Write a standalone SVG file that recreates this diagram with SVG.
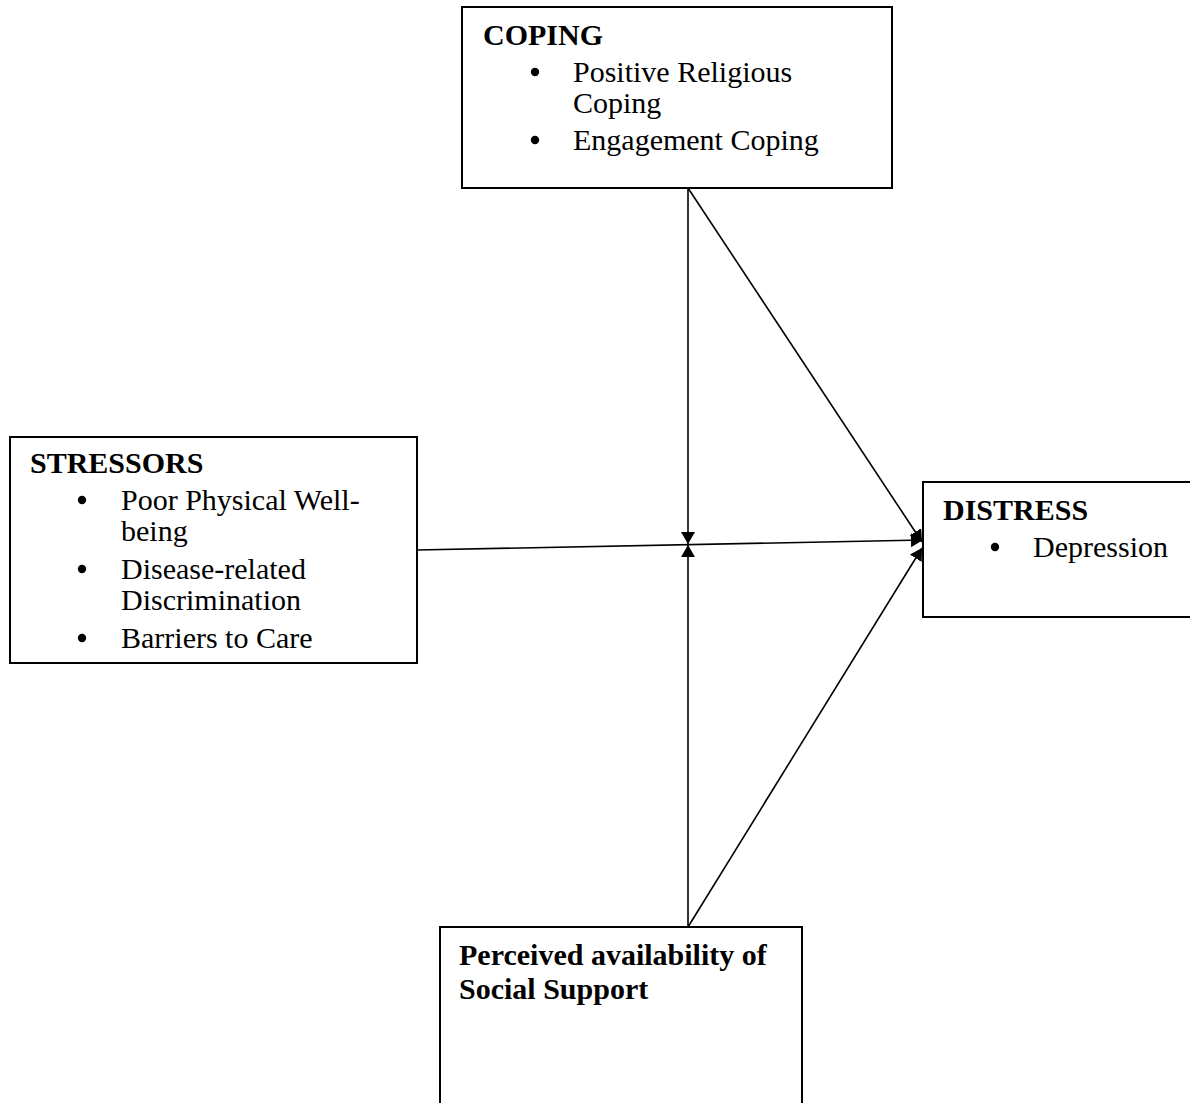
<svg xmlns="http://www.w3.org/2000/svg" width="1190" height="1103" viewBox="0 0 1190 1103">
<style>
.box{fill:#fff;stroke:#000;stroke-width:2}
.t{font-family:"Liberation Serif","Times New Roman",serif;font-size:30px;fill:#000}
.b{font-weight:bold}
.bul{fill:#000}
.c{stroke:#000;stroke-width:1.6;fill:none}
</style>
<defs>
<marker id="ah" viewBox="0 0 12 14" refX="12" refY="7" markerWidth="12" markerHeight="14" markerUnits="userSpaceOnUse" orient="auto">
<path d="M0,0 L12,7 L0,14 Z" fill="#000"/>
</marker>
</defs>
<rect width="1190" height="1103" fill="#fff"/>
<g id="connectors">
<line class="c" x1="688" y1="188" x2="688" y2="544" marker-end="url(#ah)"/>
<line class="c" x1="688" y1="927" x2="688" y2="545" marker-end="url(#ah)"/>
<line class="c" x1="417" y1="550" x2="923" y2="540" marker-end="url(#ah)"/>
<line class="c" x1="688" y1="188" x2="922" y2="542" marker-end="url(#ah)"/>
<line class="c" x1="688" y1="927" x2="922" y2="548" marker-end="url(#ah)"/>
</g>
<g id="coping">
<rect class="box" x="462" y="7" width="430" height="181"/>
<text class="t b" x="483" y="45">COPING</text>
<circle class="bul" cx="535" cy="72" r="4.2"/>
<text class="t" x="573" y="82">Positive Religious</text>
<text class="t" x="573" y="113">Coping</text>
<circle class="bul" cx="535" cy="140" r="4.2"/>
<text class="t" x="573" y="150">Engagement Coping</text>
</g>
<g id="stressors">
<rect class="box" x="10" y="437" width="407" height="226"/>
<text class="t b" x="30" y="473">STRESSORS</text>
<circle class="bul" cx="82" cy="500" r="4.2"/>
<text class="t" x="121" y="510">Poor Physical Well-</text>
<text class="t" x="121" y="541">being</text>
<circle class="bul" cx="82" cy="569" r="4.2"/>
<text class="t" x="121" y="579">Disease-related</text>
<text class="t" x="121" y="610">Discrimination</text>
<circle class="bul" cx="82" cy="638" r="4.2"/>
<text class="t" x="121" y="648">Barriers to Care</text>
</g>
<g id="distress">
<rect class="box" x="923" y="482" width="270" height="135"/>
<text class="t b" x="943" y="520">DISTRESS</text>
<circle class="bul" cx="995" cy="547" r="4.2"/>
<text class="t" x="1033" y="557">Depression</text>
</g>
<g id="support">
<rect class="box" x="440" y="927" width="362" height="180"/>
<text class="t b" x="459" y="965">Perceived availability of</text>
<text class="t b" x="459" y="999">Social Support</text>
</g>
</svg>
